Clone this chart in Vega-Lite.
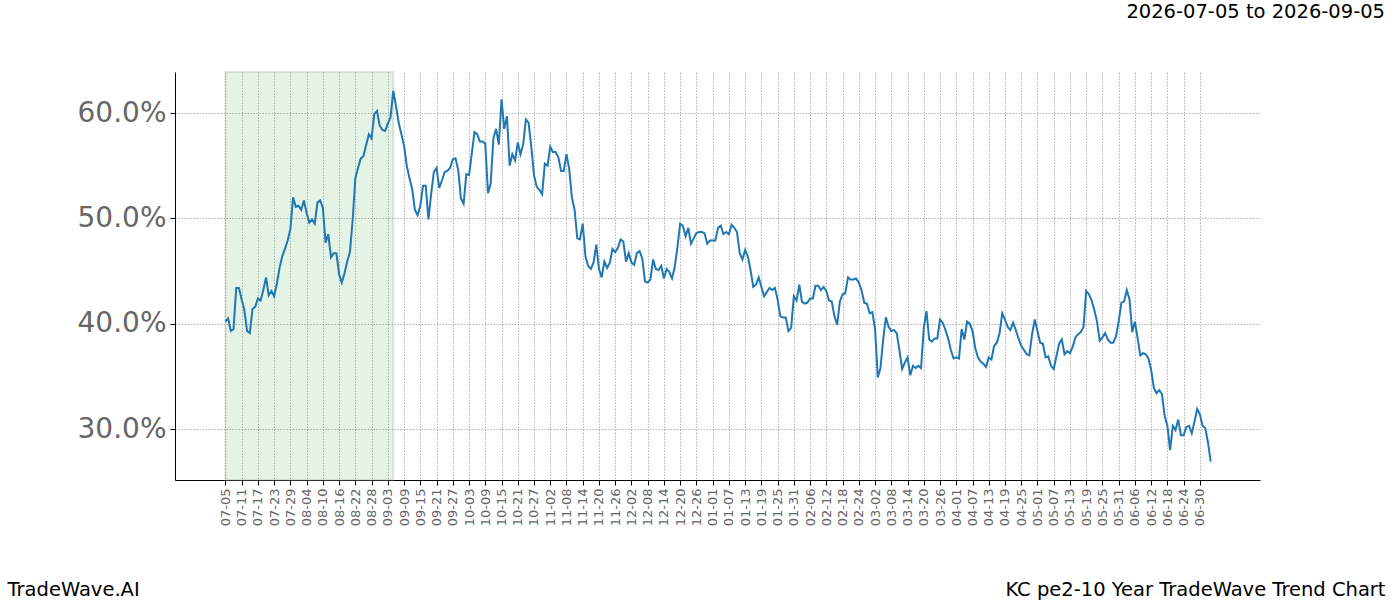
{
  "$schema": "https://vega.github.io/schema/vega-lite/v6.json",
  "width": 1085,
  "height": 408,
  "autosize": {"type": "none"},
  "padding": {"left": 175, "top": 72, "right": 140, "bottom": 120},
  "background": "white",
  "config": {
    "view": {"stroke": null},
    "font": "DejaVu Sans",
    "axis": {"labelFont": "DejaVu Sans", "titleFont": "DejaVu Sans", "tickColor": "#000000", "tickSize": 5, "domainColor": "#000000", "domainWidth": 1, "grid": true, "gridColor": "#a0a0a0", "gridDash": [1.5, 1.5], "gridWidth": 0.8, "titleFontSize": 19.5, "titleFontWeight": "normal", "titleColor": "#000000", "labelColor": "#666666"},
    "axisX": {"labelAngle": -90, "labelFontSize": 13, "labelPadding": 3, "labelOverlap": false, "titleAnchor": "end", "titleAlign": "right", "titleBaseline": "alphabetic", "titleX": 1210, "titleY": 115},
    "axisY": {"labelFontSize": 28, "labelPadding": 4, "titleAngle": 0, "titleAlign": "left", "titleBaseline": "alphabetic", "titleX": -168, "titleY": 523}
  },
  "title": {"text": "2026-07-05 to 2026-09-05", "anchor": "end", "frame": "group", "dx": 125, "offset": 49, "fontSize": 19.5, "fontWeight": "normal", "font": "DejaVu Sans", "color": "#000000"},
  "datasets": {
    "shade": [{"start": "2026-07-05", "end": "2026-09-05"}],
    "series": [
      {"d":"2026-07-05","v":40.2},{"d":"2026-07-06","v":40.5},{"d":"2026-07-07","v":39.3},{"d":"2026-07-08","v":39.5},{"d":"2026-07-09","v":43.4},{"d":"2026-07-10","v":43.4},{"d":"2026-07-11","v":42.3},{"d":"2026-07-12","v":41.3},{"d":"2026-07-13","v":39.3},{"d":"2026-07-14","v":39.1},{"d":"2026-07-15","v":41.4},{"d":"2026-07-16","v":41.6},{"d":"2026-07-17","v":42.4},{"d":"2026-07-18","v":42.2},{"d":"2026-07-19","v":43.2},{"d":"2026-07-20","v":44.4},{"d":"2026-07-21","v":42.7},{"d":"2026-07-22","v":43.1},{"d":"2026-07-23","v":42.6},{"d":"2026-07-24","v":43.8},{"d":"2026-07-25","v":45.3},{"d":"2026-07-26","v":46.4},{"d":"2026-07-27","v":47.1},{"d":"2026-07-28","v":47.9},{"d":"2026-07-29","v":49.0},{"d":"2026-07-30","v":52.0},{"d":"2026-07-31","v":51.1},
      {"d":"2026-08-01","v":51.2},{"d":"2026-08-02","v":50.8},{"d":"2026-08-03","v":51.7},{"d":"2026-08-04","v":50.5},{"d":"2026-08-05","v":49.6},{"d":"2026-08-06","v":49.9},{"d":"2026-08-07","v":49.5},{"d":"2026-08-08","v":51.5},{"d":"2026-08-09","v":51.7},{"d":"2026-08-10","v":51.0},{"d":"2026-08-11","v":47.7},{"d":"2026-08-12","v":48.5},{"d":"2026-08-13","v":46.3},{"d":"2026-08-14","v":46.7},{"d":"2026-08-15","v":46.7},{"d":"2026-08-16","v":44.7},{"d":"2026-08-17","v":43.9},{"d":"2026-08-18","v":44.8},{"d":"2026-08-19","v":45.9},{"d":"2026-08-20","v":46.8},{"d":"2026-08-21","v":49.8},{"d":"2026-08-22","v":53.8},{"d":"2026-08-23","v":54.8},{"d":"2026-08-24","v":55.7},{"d":"2026-08-25","v":55.9},{"d":"2026-08-26","v":57.0},{"d":"2026-08-27","v":58.0},{"d":"2026-08-28","v":57.6},{"d":"2026-08-29","v":59.9},{"d":"2026-08-30","v":60.2},{"d":"2026-08-31","v":58.8},
      {"d":"2026-09-01","v":58.4},{"d":"2026-09-02","v":58.3},{"d":"2026-09-03","v":59.0},{"d":"2026-09-04","v":59.6},{"d":"2026-09-05","v":62.1},{"d":"2026-09-06","v":60.7},{"d":"2026-09-07","v":59.1},{"d":"2026-09-08","v":58.0},{"d":"2026-09-09","v":56.9},{"d":"2026-09-10","v":55.0},{"d":"2026-09-11","v":53.8},{"d":"2026-09-12","v":52.8},{"d":"2026-09-13","v":50.8},{"d":"2026-09-14","v":50.3},{"d":"2026-09-15","v":51.2},{"d":"2026-09-16","v":53.1},{"d":"2026-09-17","v":53.1},{"d":"2026-09-18","v":49.9},{"d":"2026-09-19","v":52.3},{"d":"2026-09-20","v":54.4},{"d":"2026-09-21","v":54.8},{"d":"2026-09-22","v":52.9},{"d":"2026-09-23","v":53.6},{"d":"2026-09-24","v":54.4},{"d":"2026-09-25","v":54.5},{"d":"2026-09-26","v":54.8},{"d":"2026-09-27","v":55.6},{"d":"2026-09-28","v":55.7},{"d":"2026-09-29","v":54.6},{"d":"2026-09-30","v":51.9},
      {"d":"2026-10-01","v":51.4},{"d":"2026-10-02","v":54.2},{"d":"2026-10-03","v":54.1},{"d":"2026-10-04","v":56.1},{"d":"2026-10-05","v":58.2},{"d":"2026-10-06","v":58.0},{"d":"2026-10-07","v":57.3},{"d":"2026-10-08","v":57.3},{"d":"2026-10-09","v":57.1},{"d":"2026-10-10","v":52.4},{"d":"2026-10-11","v":53.3},{"d":"2026-10-12","v":57.6},{"d":"2026-10-13","v":58.5},{"d":"2026-10-14","v":57.0},{"d":"2026-10-15","v":61.3},{"d":"2026-10-16","v":58.5},{"d":"2026-10-17","v":59.7},{"d":"2026-10-18","v":55.0},{"d":"2026-10-19","v":56.1},{"d":"2026-10-20","v":55.5},{"d":"2026-10-21","v":57.2},{"d":"2026-10-22","v":56.1},{"d":"2026-10-23","v":57.0},{"d":"2026-10-24","v":59.4},{"d":"2026-10-25","v":59.1},{"d":"2026-10-26","v":56.8},{"d":"2026-10-27","v":54.1},{"d":"2026-10-28","v":53.0},{"d":"2026-10-29","v":52.7},{"d":"2026-10-30","v":52.3},{"d":"2026-10-31","v":55.2},
      {"d":"2026-11-01","v":55.0},{"d":"2026-11-02","v":56.8},{"d":"2026-11-03","v":56.3},{"d":"2026-11-04","v":56.3},{"d":"2026-11-05","v":55.8},{"d":"2026-11-06","v":54.5},{"d":"2026-11-07","v":54.5},{"d":"2026-11-08","v":56.1},{"d":"2026-11-09","v":54.7},{"d":"2026-11-10","v":52.0},{"d":"2026-11-11","v":50.8},{"d":"2026-11-12","v":48.1},{"d":"2026-11-13","v":48.0},{"d":"2026-11-14","v":49.5},{"d":"2026-11-15","v":46.4},{"d":"2026-11-16","v":45.5},{"d":"2026-11-17","v":45.2},{"d":"2026-11-18","v":45.8},{"d":"2026-11-19","v":47.5},{"d":"2026-11-20","v":45.2},{"d":"2026-11-21","v":44.4},{"d":"2026-11-22","v":45.9},{"d":"2026-11-23","v":45.3},{"d":"2026-11-24","v":45.8},{"d":"2026-11-25","v":47.1},{"d":"2026-11-26","v":46.8},{"d":"2026-11-27","v":47.2},{"d":"2026-11-28","v":48.0},{"d":"2026-11-29","v":47.8},{"d":"2026-11-30","v":45.9},
      {"d":"2026-12-01","v":46.7},{"d":"2026-12-02","v":45.8},{"d":"2026-12-03","v":45.6},{"d":"2026-12-04","v":46.7},{"d":"2026-12-05","v":46.9},{"d":"2026-12-06","v":46.2},{"d":"2026-12-07","v":44.0},{"d":"2026-12-08","v":43.9},{"d":"2026-12-09","v":44.2},{"d":"2026-12-10","v":46.1},{"d":"2026-12-11","v":45.2},{"d":"2026-12-12","v":45.1},{"d":"2026-12-13","v":45.5},{"d":"2026-12-14","v":44.3},{"d":"2026-12-15","v":45.2},{"d":"2026-12-16","v":44.9},{"d":"2026-12-17","v":44.3},{"d":"2026-12-18","v":45.4},{"d":"2026-12-19","v":47.3},{"d":"2026-12-20","v":49.5},{"d":"2026-12-21","v":49.3},{"d":"2026-12-22","v":48.3},{"d":"2026-12-23","v":49.1},{"d":"2026-12-24","v":47.6},{"d":"2026-12-25","v":48.1},{"d":"2026-12-26","v":48.6},{"d":"2026-12-27","v":48.7},{"d":"2026-12-28","v":48.7},{"d":"2026-12-29","v":48.6},{"d":"2026-12-30","v":47.6},{"d":"2026-12-31","v":47.9},
      {"d":"2027-01-01","v":47.9},{"d":"2027-01-02","v":47.9},{"d":"2027-01-03","v":49.1},{"d":"2027-01-04","v":49.3},{"d":"2027-01-05","v":48.5},{"d":"2027-01-06","v":48.7},{"d":"2027-01-07","v":48.5},{"d":"2027-01-08","v":49.4},{"d":"2027-01-09","v":49.1},{"d":"2027-01-10","v":48.7},{"d":"2027-01-11","v":46.7},{"d":"2027-01-12","v":46.1},{"d":"2027-01-13","v":47.0},{"d":"2027-01-14","v":46.4},{"d":"2027-01-15","v":45.1},{"d":"2027-01-16","v":43.5},{"d":"2027-01-17","v":43.7},{"d":"2027-01-18","v":44.4},{"d":"2027-01-19","v":43.5},{"d":"2027-01-20","v":42.6},{"d":"2027-01-21","v":43.0},{"d":"2027-01-22","v":43.4},{"d":"2027-01-23","v":43.2},{"d":"2027-01-24","v":43.4},{"d":"2027-01-25","v":42.3},{"d":"2027-01-26","v":40.7},{"d":"2027-01-27","v":40.6},{"d":"2027-01-28","v":40.6},{"d":"2027-01-29","v":39.3},{"d":"2027-01-30","v":39.6},{"d":"2027-01-31","v":42.6},
      {"d":"2027-02-01","v":42.2},{"d":"2027-02-02","v":43.7},{"d":"2027-02-03","v":42.1},{"d":"2027-02-04","v":41.9},{"d":"2027-02-05","v":42.0},{"d":"2027-02-06","v":42.4},{"d":"2027-02-07","v":42.4},{"d":"2027-02-08","v":43.6},{"d":"2027-02-09","v":43.6},{"d":"2027-02-10","v":43.2},{"d":"2027-02-11","v":43.5},{"d":"2027-02-12","v":43.1},{"d":"2027-02-13","v":42.2},{"d":"2027-02-14","v":42.1},{"d":"2027-02-15","v":40.7},{"d":"2027-02-16","v":39.9},{"d":"2027-02-17","v":42.1},{"d":"2027-02-18","v":42.8},{"d":"2027-02-19","v":42.9},{"d":"2027-02-20","v":44.4},{"d":"2027-02-21","v":44.2},{"d":"2027-02-22","v":44.2},{"d":"2027-02-23","v":44.3},{"d":"2027-02-24","v":43.9},{"d":"2027-02-25","v":43.2},{"d":"2027-02-26","v":42.0},{"d":"2027-02-27","v":41.9},{"d":"2027-02-28","v":41.0},
      {"d":"2027-03-01","v":41.1},{"d":"2027-03-02","v":39.5},{"d":"2027-03-03","v":34.9},{"d":"2027-03-04","v":35.8},{"d":"2027-03-05","v":38.5},{"d":"2027-03-06","v":40.6},{"d":"2027-03-07","v":39.7},{"d":"2027-03-08","v":39.3},{"d":"2027-03-09","v":39.4},{"d":"2027-03-10","v":39.1},{"d":"2027-03-11","v":37.5},{"d":"2027-03-12","v":35.7},{"d":"2027-03-13","v":36.3},{"d":"2027-03-14","v":36.8},{"d":"2027-03-15","v":35.1},{"d":"2027-03-16","v":36.0},{"d":"2027-03-17","v":35.8},{"d":"2027-03-18","v":36.0},{"d":"2027-03-19","v":35.8},{"d":"2027-03-20","v":39.6},{"d":"2027-03-21","v":41.2},{"d":"2027-03-22","v":38.5},{"d":"2027-03-23","v":38.3},{"d":"2027-03-24","v":38.6},{"d":"2027-03-25","v":38.6},{"d":"2027-03-26","v":40.4},{"d":"2027-03-27","v":40.1},{"d":"2027-03-28","v":39.4},{"d":"2027-03-29","v":38.6},{"d":"2027-03-30","v":37.5},{"d":"2027-03-31","v":36.7},
      {"d":"2027-04-01","v":36.8},{"d":"2027-04-02","v":36.7},{"d":"2027-04-03","v":39.5},{"d":"2027-04-04","v":38.5},{"d":"2027-04-05","v":40.2},{"d":"2027-04-06","v":40.0},{"d":"2027-04-07","v":39.3},{"d":"2027-04-08","v":37.7},{"d":"2027-04-09","v":36.8},{"d":"2027-04-10","v":36.4},{"d":"2027-04-11","v":36.2},{"d":"2027-04-12","v":35.9},{"d":"2027-04-13","v":36.8},{"d":"2027-04-14","v":36.6},{"d":"2027-04-15","v":37.9},{"d":"2027-04-16","v":38.2},{"d":"2027-04-17","v":39.1},{"d":"2027-04-18","v":41.0},{"d":"2027-04-19","v":40.4},{"d":"2027-04-20","v":39.7},{"d":"2027-04-21","v":39.4},{"d":"2027-04-22","v":40.1},{"d":"2027-04-23","v":39.4},{"d":"2027-04-24","v":38.6},{"d":"2027-04-25","v":37.9},{"d":"2027-04-26","v":37.5},{"d":"2027-04-27","v":37.1},{"d":"2027-04-28","v":37.0},{"d":"2027-04-29","v":39.0},{"d":"2027-04-30","v":40.4},
      {"d":"2027-05-01","v":39.3},{"d":"2027-05-02","v":38.2},{"d":"2027-05-03","v":38.1},{"d":"2027-05-04","v":36.8},{"d":"2027-05-05","v":36.9},{"d":"2027-05-06","v":36.0},{"d":"2027-05-07","v":35.7},{"d":"2027-05-08","v":36.9},{"d":"2027-05-09","v":38.1},{"d":"2027-05-10","v":38.5},{"d":"2027-05-11","v":37.1},{"d":"2027-05-12","v":37.4},{"d":"2027-05-13","v":37.2},{"d":"2027-05-14","v":37.8},{"d":"2027-05-15","v":38.7},{"d":"2027-05-16","v":39.0},{"d":"2027-05-17","v":39.2},{"d":"2027-05-18","v":39.7},{"d":"2027-05-19","v":43.1},{"d":"2027-05-20","v":42.8},{"d":"2027-05-21","v":42.2},{"d":"2027-05-22","v":41.3},{"d":"2027-05-23","v":40.2},{"d":"2027-05-24","v":38.4},{"d":"2027-05-25","v":38.7},{"d":"2027-05-26","v":39.1},{"d":"2027-05-27","v":38.5},{"d":"2027-05-28","v":38.2},{"d":"2027-05-29","v":38.2},{"d":"2027-05-30","v":38.8},{"d":"2027-05-31","v":40.2},
      {"d":"2027-06-01","v":42.0},{"d":"2027-06-02","v":42.1},{"d":"2027-06-03","v":43.2},{"d":"2027-06-04","v":42.3},{"d":"2027-06-05","v":39.2},{"d":"2027-06-06","v":40.2},{"d":"2027-06-07","v":38.6},{"d":"2027-06-08","v":37.0},{"d":"2027-06-09","v":37.2},{"d":"2027-06-10","v":37.1},{"d":"2027-06-11","v":36.7},{"d":"2027-06-12","v":35.6},{"d":"2027-06-13","v":33.9},{"d":"2027-06-14","v":33.4},{"d":"2027-06-15","v":33.7},{"d":"2027-06-16","v":33.3},{"d":"2027-06-17","v":31.2},{"d":"2027-06-18","v":30.3},{"d":"2027-06-19","v":28.0},{"d":"2027-06-20","v":30.3},{"d":"2027-06-21","v":29.9},{"d":"2027-06-22","v":30.9},{"d":"2027-06-23","v":29.4},{"d":"2027-06-24","v":29.4},{"d":"2027-06-25","v":30.2},{"d":"2027-06-26","v":30.3},{"d":"2027-06-27","v":29.6},{"d":"2027-06-28","v":30.7},{"d":"2027-06-29","v":31.9},{"d":"2027-06-30","v":31.4},
      {"d":"2027-07-01","v":30.3},{"d":"2027-07-02","v":30.1},{"d":"2027-07-03","v":28.7},{"d":"2027-07-04","v":26.9}
    ]
  },
  "layer": [
    {
      "data": {"name": "shade"},
      "mark": {"type": "rect", "fill": "#2ca02c", "fillOpacity": 0.12, "stroke": "#9aa89a", "strokeOpacity": 0.3, "strokeWidth": 2},
      "encoding": {
        "x": {
          "field": "start",
          "type": "temporal",
          "title": "KC pe2-10 Year TradeWave Trend Chart",
          "scale": {
            "type": "utc",
            "domain": [
              {"year": 2026, "month": 6, "date": 16, "hours": 9, "utc": true},
              {"year": 2027, "month": 7, "date": 22, "hours": 5, "utc": true}
            ]
          },
          "axis": {
            "format": "%m-%d",
            "tickCount": 200,
            "values": [
              {"year":2026,"month":7,"date":5,"utc":true},{"year":2026,"month":7,"date":11,"utc":true},{"year":2026,"month":7,"date":17,"utc":true},{"year":2026,"month":7,"date":23,"utc":true},{"year":2026,"month":7,"date":29,"utc":true},
              {"year":2026,"month":8,"date":4,"utc":true},{"year":2026,"month":8,"date":10,"utc":true},{"year":2026,"month":8,"date":16,"utc":true},{"year":2026,"month":8,"date":22,"utc":true},{"year":2026,"month":8,"date":28,"utc":true},
              {"year":2026,"month":9,"date":3,"utc":true},{"year":2026,"month":9,"date":9,"utc":true},{"year":2026,"month":9,"date":15,"utc":true},{"year":2026,"month":9,"date":21,"utc":true},{"year":2026,"month":9,"date":27,"utc":true},
              {"year":2026,"month":10,"date":3,"utc":true},{"year":2026,"month":10,"date":9,"utc":true},{"year":2026,"month":10,"date":15,"utc":true},{"year":2026,"month":10,"date":21,"utc":true},{"year":2026,"month":10,"date":27,"utc":true},
              {"year":2026,"month":11,"date":2,"utc":true},{"year":2026,"month":11,"date":8,"utc":true},{"year":2026,"month":11,"date":14,"utc":true},{"year":2026,"month":11,"date":20,"utc":true},{"year":2026,"month":11,"date":26,"utc":true},
              {"year":2026,"month":12,"date":2,"utc":true},{"year":2026,"month":12,"date":8,"utc":true},{"year":2026,"month":12,"date":14,"utc":true},{"year":2026,"month":12,"date":20,"utc":true},{"year":2026,"month":12,"date":26,"utc":true},
              {"year":2027,"month":1,"date":1,"utc":true},{"year":2027,"month":1,"date":7,"utc":true},{"year":2027,"month":1,"date":13,"utc":true},{"year":2027,"month":1,"date":19,"utc":true},{"year":2027,"month":1,"date":25,"utc":true},{"year":2027,"month":1,"date":31,"utc":true},
              {"year":2027,"month":2,"date":6,"utc":true},{"year":2027,"month":2,"date":12,"utc":true},{"year":2027,"month":2,"date":18,"utc":true},{"year":2027,"month":2,"date":24,"utc":true},
              {"year":2027,"month":3,"date":2,"utc":true},{"year":2027,"month":3,"date":8,"utc":true},{"year":2027,"month":3,"date":14,"utc":true},{"year":2027,"month":3,"date":20,"utc":true},{"year":2027,"month":3,"date":26,"utc":true},
              {"year":2027,"month":4,"date":1,"utc":true},{"year":2027,"month":4,"date":7,"utc":true},{"year":2027,"month":4,"date":13,"utc":true},{"year":2027,"month":4,"date":19,"utc":true},{"year":2027,"month":4,"date":25,"utc":true},
              {"year":2027,"month":5,"date":1,"utc":true},{"year":2027,"month":5,"date":7,"utc":true},{"year":2027,"month":5,"date":13,"utc":true},{"year":2027,"month":5,"date":19,"utc":true},{"year":2027,"month":5,"date":25,"utc":true},{"year":2027,"month":5,"date":31,"utc":true},
              {"year":2027,"month":6,"date":6,"utc":true},{"year":2027,"month":6,"date":12,"utc":true},{"year":2027,"month":6,"date":18,"utc":true},{"year":2027,"month":6,"date":24,"utc":true},{"year":2027,"month":6,"date":30,"utc":true}
            ]
          }
        },
        "x2": {"field": "end"}
      }
    },
    {
      "data": {"name": "series"},
      "mark": {"type": "line", "color": "#1f77b4", "strokeWidth": 2, "interpolate": "linear"},
      "encoding": {
        "x": {"field": "d", "type": "temporal", "title": "KC pe2-10 Year TradeWave Trend Chart"},
        "y": {
          "field": "v",
          "type": "quantitative",
          "title": "TradeWave.AI",
          "scale": {"domain": [25.16, 63.9], "nice": false, "zero": false},
          "axis": {
            "values": [30, 40, 50, 60],
            "labelExpr": "format(datum.value, '.1f') + '%'"
          }
        }
      }
    }
  ]
}
